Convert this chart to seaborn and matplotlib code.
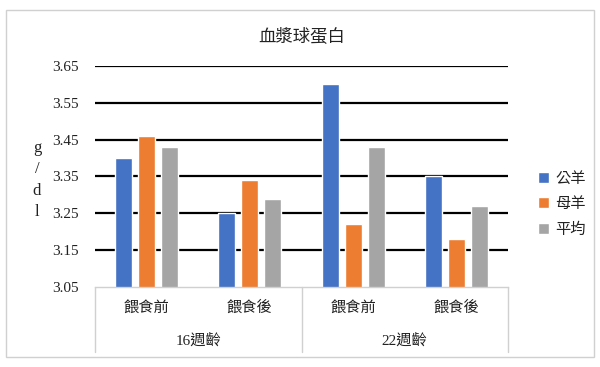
import matplotlib
matplotlib.use("Agg")
import matplotlib.pyplot as plt
import matplotlib.transforms as mtransforms
from matplotlib.patches import Rectangle
import seaborn as sns
import pandas as pd

# ---- data ----
ages = ["16週齡", "16週齡", "22週齡", "22週齡"]
stages = ["餵食前", "餵食後", "餵食前", "餵食後"]
series = ["公羊", "母羊", "平均"]
male = [3.40, 3.25, 3.60, 3.35]
female = [3.46, 3.34, 3.22, 3.18]
average = [3.43, 3.29, 3.43, 3.27]
yticks = [3.05, 3.15, 3.25, 3.35, 3.45, 3.55, 3.65]
title = "血漿球蛋白"
ylabel = "g\n/\nd\nl"

colors = ["#4472C4", "#ED7D31", "#A5A5A5"]

keys = [f"{a}-{s}" for a, s in zip(ages, stages)]
rows = []
for name, vals in zip(series, [male, female, average]):
    for k, v in zip(keys, vals):
        rows.append({"key": k, "series": name, "value": v})
df = pd.DataFrame(rows)

sns.set_theme(style="white")
fam = ["Liberation Serif", "Noto Sans CJK TC", "DejaVu Sans"]
plt.rcParams["font.family"] = fam

fig = plt.figure(figsize=(6.0, 3.67), dpi=100)
fig.patch.set_facecolor("white")
fig.patches.append(Rectangle((6 / 600, 1 - 357 / 367), 588 / 600, 347 / 367,
                             transform=fig.transFigure, fill=False,
                             edgecolor="#d0d0d0", linewidth=1.0))

ax = fig.add_axes([95 / 600, 1 - 287 / 367, 413 / 600, 221 / 367])
sns.barplot(data=df, x="key", y="value", hue="series", order=keys,
            hue_order=series, palette=colors, width=0.67, gap=0.26,
            ax=ax, saturation=1, legend=True, errorbar=None)

ax.set_ylim(3.05, 3.65)
ax.set_xlim(-0.5, 3.5)
ax.set_yticks(yticks)
ax.set_yticklabels([f"{t:.2f}" for t in yticks], fontsize=11, color="#222222")
ax.tick_params(axis="y", length=0, pad=12)
ax.set_xticks([])
ax.set_xlabel("")
ax.set_ylabel("")
for t in yticks[1:]:
    ax.axhline(t, color="black", linewidth=1.6, zorder=0.5)
for s in ["top", "right", "left"]:
    ax.spines[s].set_visible(False)
ax.spines["bottom"].set_color("#d0d0d0")
ax.spines["bottom"].set_linewidth(1.0)

trans = mtransforms.blended_transform_factory(ax.transData, ax.transAxes)
for xd in [-0.5, 1.5, 3.5]:
    ax.plot([xd, xd], [0, -0.294], transform=trans, color="#d0d0d0",
            linewidth=1.0, clip_on=False)
for i, s in enumerate(stages):
    ax.text(i, -0.095, s, transform=trans, ha="center", va="center",
            fontsize=11, color="#222222")
for i, a in enumerate(["16週齡", "22週齡"]):
    ax.text(2 * i + 0.5, -0.24, a, transform=trans, ha="center", va="center",
            fontsize=11, color="#222222")

ax.set_title(title, fontsize=12.5, color="#222222", pad=18)
fig.text(37 / 600, 1 - 180 / 367, ylabel, ha="center", va="center",
         fontsize=12, color="#222222", linespacing=1.45)

leg = ax.legend(loc="center left", bbox_to_anchor=(1.04, 0.375), frameon=False,
                handlelength=0.7, handleheight=0.7, handletextpad=0.4,
                labelspacing=0.75, fontsize=11)
for t in leg.get_texts():
    t.set_color("#222222")

fig.savefig("out.png", dpi=100)
